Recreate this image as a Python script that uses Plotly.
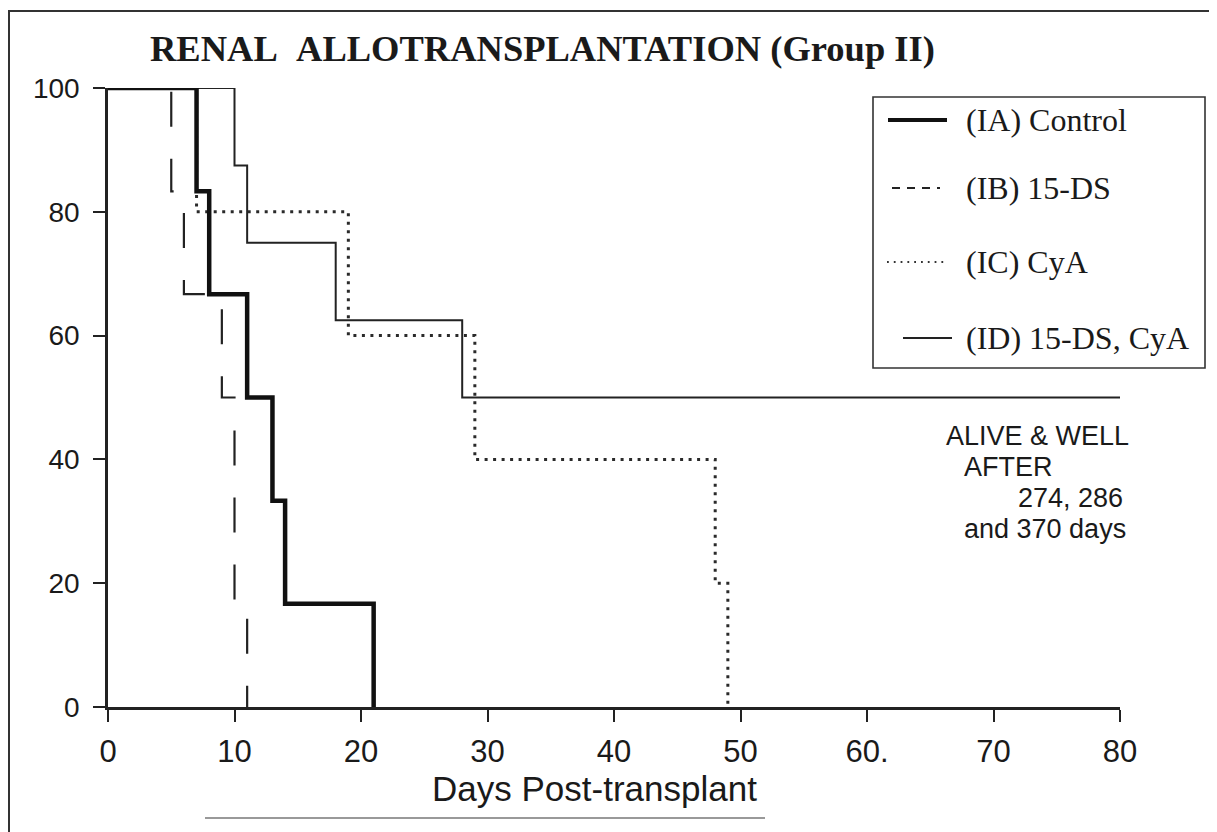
import plotly.graph_objects as go

# ---- data ----
control_days = [0, 7, 8, 11, 13, 14, 21]
control_surv = [100, 83.3, 66.7, 50, 33.3, 16.7, 0]

ds15_days = [0, 5, 6, 9, 10, 11]
ds15_surv = [100, 83.3, 66.7, 50, 16.7, 0]

cya_days = [0, 7, 19, 29, 48, 49]
cya_surv = [100, 80, 60, 40, 20, 0]

combo_days = [0, 10, 11, 18, 28, 80]
combo_surv = [100, 87.5, 75, 62.5, 50, 50]

x_ticks = [0, 10, 20, 30, 40, 50, 60, 70, 80]
x_tick_text = ["0", "10", "20", "30", "40", "50", "60.", "70", "80"]
y_ticks = [0, 20, 40, 60, 80, 100]

legend_labels = ["(IA) Control", "(IB) 15-DS", "(IC) CyA", "(ID) 15-DS, CyA"]
note_lines = ["ALIVE & WELL", "AFTER", "274, 286", "and 370 days"]
title_text = "RENAL\u00a0\u00a0ALLOTRANSPLANTATION (Group II)"
x_title = "Days Post-transplant"

# ---- geometry helpers (reference pixel -> paper) ----
OFF = 8                      # page body margin of the browser
W, H = 1217 - OFF, 832 - OFF
L, R, T, B = 108, 1120, 88, 707   # plot area in reference pixels


def px(x):
    return (x - L) / (R - L)


def py(y):
    return (B - y) / (B - T)


SANS = "Liberation Sans, Arial, sans-serif"
SERIF = "Liberation Serif, Times New Roman, serif"

fig = go.Figure()

fig.add_trace(go.Scatter(x=combo_days, y=combo_surv, mode="lines", line_shape="hv",
                         line=dict(color="#222", width=2), cliponaxis=False,
                         name=legend_labels[3]))
fig.add_trace(go.Scatter(x=cya_days, y=cya_surv, mode="lines", line_shape="hv",
                         line=dict(color="#2a2a2a", width=3, dash="3px,5.5px"), cliponaxis=False,
                         name=legend_labels[2]))
fig.add_trace(go.Scatter(x=ds15_days, y=ds15_surv, mode="lines", line_shape="hv",
                         line=dict(color="#222", width=2.2, dash="35px,32px"), cliponaxis=False,
                         name=legend_labels[1]))
fig.add_trace(go.Scatter(x=control_days, y=control_surv, mode="lines", line_shape="hv",
                         line=dict(color="#111", width=4.5), cliponaxis=False,
                         name=legend_labels[0]))

shapes = []
# outer frame
shapes.append(dict(type="rect", xref="paper", yref="paper",
                   x0=px(9), x1=px(1212), y0=py(845), y1=py(11),
                   line=dict(color="#333", width=2)))
# faint scan line at bottom
shapes.append(dict(type="line", xref="paper", yref="paper",
                   x0=px(205), x1=px(765), y0=py(818), y1=py(818),
                   line=dict(color="#777", width=1.5)))
# legend box
shapes.append(dict(type="rect", xref="paper", yref="paper",
                   x0=px(873), x1=px(1205), y0=py(368), y1=py(97),
                   line=dict(color="#333", width=1.6), fillcolor="white", layer="above"))
leg_y = [120, 188, 262, 338]
leg_samples = [
    (888, 947, dict(color="#111", width=4)),
    (892, 940, dict(color="#222", width=2, dash="8px,7px")),
    (887, 948, dict(color="#333", width=1.8, dash="1.8px,5px")),
    (903, 952, dict(color="#222", width=2)),
]
for (x0, x1, ln), yy in zip(leg_samples, leg_y):
    shapes.append(dict(type="line", xref="paper", yref="paper",
                       x0=px(x0), x1=px(x1), y0=py(yy), y1=py(yy), line=ln, layer="above"))

annotations = []
annotations.append(dict(text=title_text, xref="paper", yref="paper",
                        x=px(542), y=py(49), xanchor="center", yanchor="middle",
                        showarrow=False,
                        font=dict(family=SERIF, size=36.5, color="#1a1a1a", weight="bold")))
for lab, yy in zip(legend_labels, leg_y):
    annotations.append(dict(text=lab, xref="paper", yref="paper",
                            x=px(964), y=py(yy), xanchor="left", yanchor="middle",
                            showarrow=False, font=dict(family=SERIF, size=32, color="#1a1a1a")))
note_pos = [(1131, 436), (1055, 467), (1125, 498), (1128, 529)]
for txt, (xx, yy) in zip(note_lines, note_pos):
    annotations.append(dict(text=txt, xref="paper", yref="paper",
                            x=px(xx), y=py(yy), xanchor="right", yanchor="middle",
                            showarrow=False, font=dict(family=SANS, size=27, color="#1a1a1a")))
annotations.append(dict(text=x_title, xref="paper", yref="paper",
                        x=px(594), y=py(788), xanchor="center", yanchor="middle",
                        showarrow=False, font=dict(family=SANS, size=35, color="#1a1a1a")))

fig.update_layout(
    width=W, height=H,
    margin=dict(l=L - OFF, r=W - (R - OFF), t=T - OFF, b=H - (B - OFF), autoexpand=False),
    paper_bgcolor="white", plot_bgcolor="white",
    showlegend=False,
    shapes=shapes, annotations=annotations,
    xaxis=dict(range=[0, 80], tickvals=x_ticks, ticktext=x_tick_text,
               showgrid=False, zeroline=False, showline=True, linecolor="#222", linewidth=2.5,
               ticks="outside", ticklen=12, tickwidth=2, tickcolor="#222",
               tickfont=dict(family=SANS, size=31, color="#1a1a1a"), ticklabelstandoff=3),
    yaxis=dict(range=[0, 100], tickvals=y_ticks,
               showgrid=False, zeroline=False, showline=True, linecolor="#222", linewidth=2.5,
               ticks="outside", ticklen=12, tickwidth=2, tickcolor="#222",
               tickfont=dict(family=SANS, size=28, color="#1a1a1a"), ticklabelstandoff=8),
)

fig.write_html("out.html")
